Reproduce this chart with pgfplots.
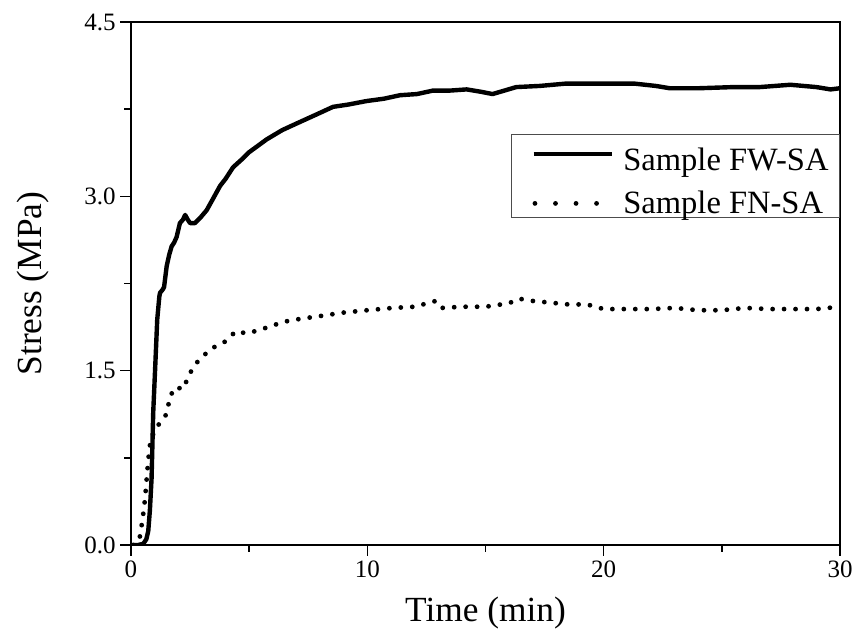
\documentclass[border=0pt]{standalone}
\usepackage{pgfplots}
\pgfplotsset{compat=1.18}
\usepackage{fontspec}
\setmainfont{Liberation Serif}
\begin{document}
\begin{tikzpicture}
\useasboundingbox (-98.25pt,-71.25pt) rectangle (544.5pt,408.75pt);
\begin{axis}[
  at={(0pt,0pt)}, anchor=south west,
  scale only axis, width=531.75pt, height=392.25pt,
  xmin=0, xmax=30, ymin=0, ymax=4.5,
  xtick={0,10,20,30}, minor xtick={5,15,25},
  ytick={0,1.5,3,4.5}, minor ytick={0.75,2.25,3.75},
  tick pos=left, tick align=outside,
  major tick length=8pt, minor tick length=5pt,
  every tick/.style={line width=1.2pt, black},
  axis line style={line width=1.5pt},
  /pgf/number format/assume math mode=true,
  yticklabel style={/pgf/number format/fixed, /pgf/number format/fixed zerofill, /pgf/number format/precision=1, font=\fontsize{18.75}{20}\selectfont},
  xticklabel style={font=\fontsize{18.75}{20}\selectfont},
  xlabel={Time (min)}, ylabel={Stress (MPa)},
  label style={font=\fontsize{26.5}{30}\selectfont},
  xlabel style={at={(axis description cs:0.5,0)}, anchor=center, yshift=-51pt},
  ylabel style={at={(axis description cs:-0.138,0.5)}, anchor=center},
  legend style={at={(axis description cs:0.536,0.786)}, anchor=north west,
    draw=black!70, line width=0.8pt, font=\fontsize{24.4}{28}\selectfont,
    inner xsep=7.5pt, inner ysep=0pt, row sep=12pt, nodes={inner sep=1pt}},
  legend cell align=left,
]
\addplot[black, line width=3.3pt, line join=round,
  legend image code/.code={\path (-7.25pt,0pt) (64.5pt,0pt); \draw[black, line width=3.3pt] (0pt,0pt) -- (59pt,0pt);}] coordinates {
(0,0) (0.3,0.0) (0.52,0.01) (0.65,0.05) (0.73,0.12) (0.80,0.3) (0.87,0.57)
(0.94,1.14) (1.02,1.51) (1.11,1.94) (1.20,2.14) (1.23,2.17) (1.35,2.20)
(1.40,2.22) (1.51,2.40) (1.62,2.50) (1.72,2.57) (1.82,2.60) (1.93,2.65)
(2.07,2.77) (2.20,2.80) (2.29,2.84) (2.40,2.80) (2.50,2.77) (2.71,2.77)
(2.95,2.82) (3.20,2.88) (3.50,2.99) (3.77,3.09) (4.0,3.15) (4.32,3.25)
(4.7,3.32) (5.0,3.38) (5.74,3.49) (6.4,3.57) (7.15,3.64) (7.8,3.70)
(8.55,3.77) (9.2,3.79) (9.97,3.82) (10.7,3.84) (11.38,3.87) (12.1,3.88)
(12.78,3.91) (13.5,3.91) (14.2,3.92) (14.8,3.90) (15.3,3.88) (15.8,3.91)
(16.3,3.94) (17.3,3.95) (18.4,3.97) (19.8,3.97) (21.3,3.97) (22.2,3.95)
(22.8,3.93) (24.0,3.93) (25.5,3.94) (26.6,3.94) (27.9,3.96) (29.0,3.94)
(29.6,3.92) (30,3.93)
};
\addlegendentry{\rule{0pt}{26pt}Sample FW-SA}
\addplot[black, line width=3.6pt, line cap=round, dash pattern=on 0pt off 8.6pt,
  legend image code/.code={\path (-7.25pt,0pt) (64.5pt,0pt); \draw[black, line width=3.6pt, line cap=round, dash pattern=on 0pt off 15.4pt] (1pt,0pt) -- (50pt,0pt);}] coordinates {
(0.1,0.0) (0.35,0.04) (0.49,0.22) (0.59,0.39) (0.66,0.56) (0.73,0.73)
(0.83,0.91) (1.11,1.02) (1.48,1.12) (1.68,1.29) (1.90,1.36) (2.19,1.34)
(2.53,1.49) (2.86,1.59) (3.40,1.69) (3.98,1.75) (4.44,1.84) (4.90,1.82)
(5.43,1.85) (5.88,1.88) (6.45,1.92) (6.98,1.94) (8,1.97) (9,2.00)
(10,2.02) (11.09,2.04) (12,2.05) (12.9,2.10) (13.16,2.04) (14,2.05)
(15,2.05) (16.0,2.08) (16.4,2.12) (17.0,2.10) (18.0,2.08) (18.5,2.07)
(19.3,2.07) (20,2.03) (21,2.03) (22,2.03) (23,2.04) (24,2.02) (25,2.02)
(26,2.04) (27,2.03) (28,2.03) (29,2.03) (30,2.05)
};
\addlegendentry{Sample FN-SA}
\end{axis}
\end{tikzpicture}
\end{document}
